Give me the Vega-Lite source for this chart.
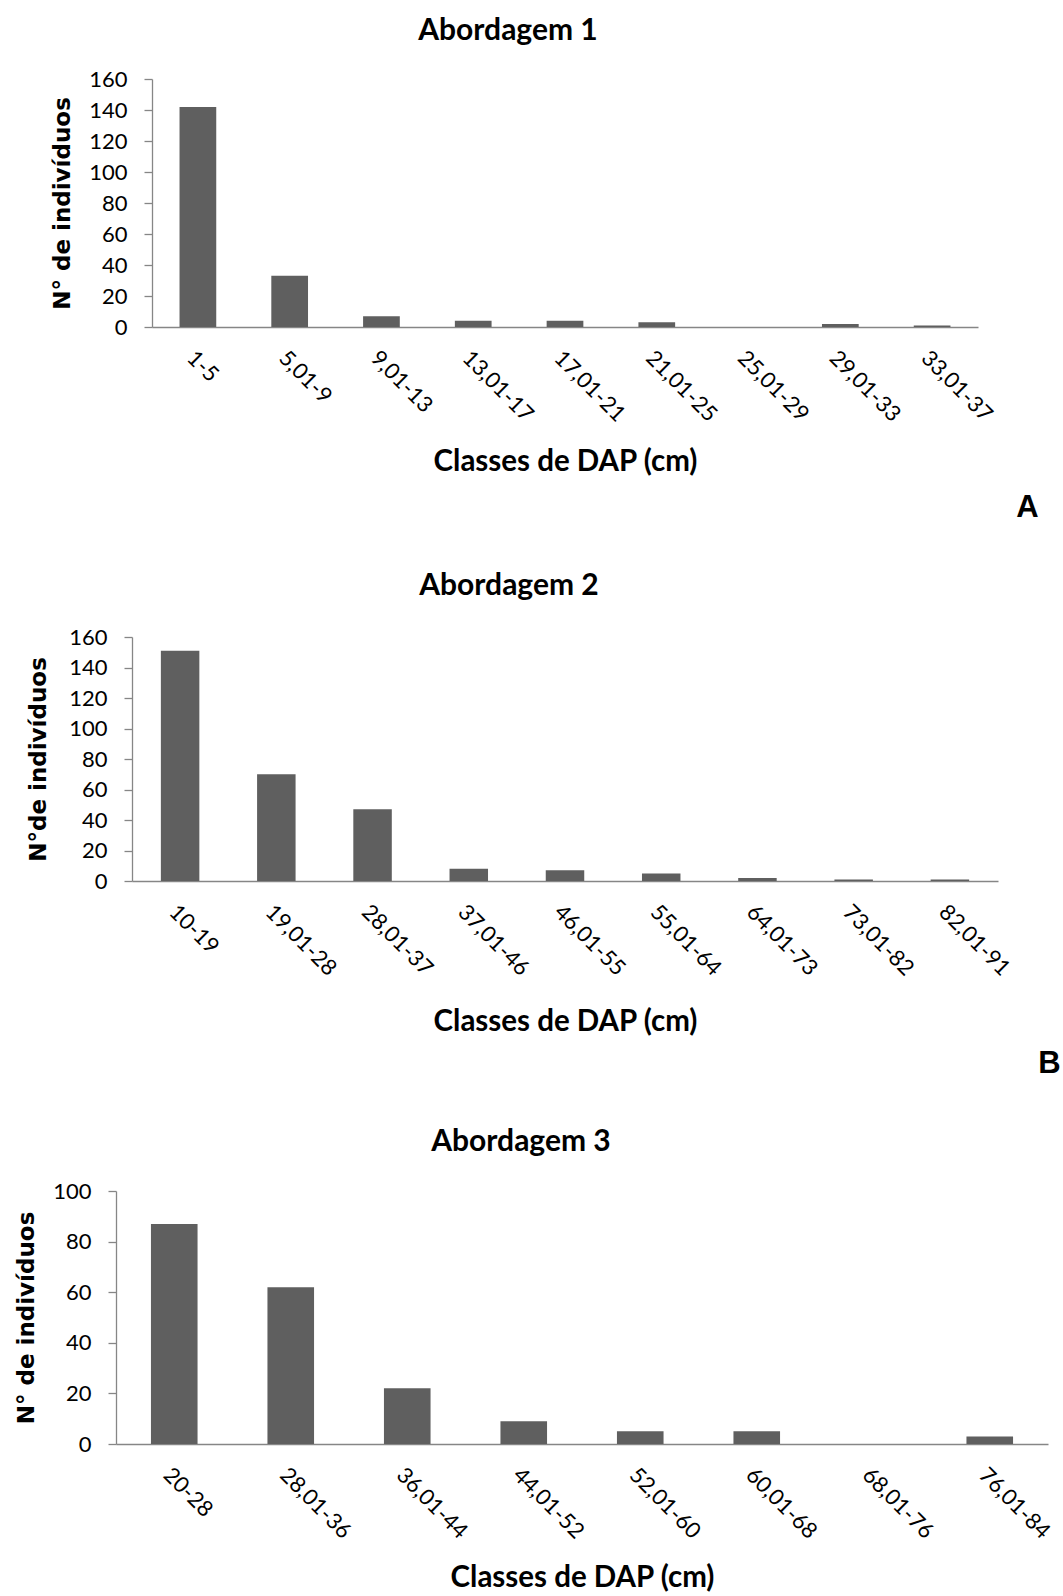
{
  "$schema": "https://vega.github.io/schema/vega-lite/v6.json",
  "background": "white",
  "padding": {"left": 0, "top": 16, "right": 0, "bottom": 0},
  "datasets": {
    "ab1": [
      {"classe": "1-5", "n": 142},
      {"classe": "5,01-9", "n": 33},
      {"classe": "9,01-13", "n": 7},
      {"classe": "13,01-17", "n": 4},
      {"classe": "17,01-21", "n": 4},
      {"classe": "21,01-25", "n": 3},
      {"classe": "25,01-29", "n": 0},
      {"classe": "29,01-33", "n": 2},
      {"classe": "33,01-37", "n": 1}
    ],
    "ab2": [
      {"classe": "10-19", "n": 151},
      {"classe": "19,01-28", "n": 70},
      {"classe": "28,01-37", "n": 47},
      {"classe": "37,01-46", "n": 8},
      {"classe": "46,01-55", "n": 7},
      {"classe": "55,01-64", "n": 5},
      {"classe": "64,01-73", "n": 2},
      {"classe": "73,01-82", "n": 1},
      {"classe": "82,01-91", "n": 1}
    ],
    "ab3": [
      {"classe": "20-28", "n": 87},
      {"classe": "28,01-36", "n": 62},
      {"classe": "36,01-44", "n": 22},
      {"classe": "44,01-52", "n": 9},
      {"classe": "52,01-60", "n": 5},
      {"classe": "60,01-68", "n": 5},
      {"classe": "68,01-76", "n": 0},
      {"classe": "76,01-84", "n": 3}
    ],
    "vazio": []
  },
  "config": {
    "view": {"stroke": null},
    "axis": {
      "domainColor": "#868686",
      "tickColor": "#868686",
      "domainWidth": 1.3,
      "tickWidth": 1.3,
      "labelFont": "Lato",
      "labelFontSize": 22,
      "labelColor": "#000000",
      "titleColor": "#000000",
      "grid": false,
      "labelOverlap": false
    },
    "axisX": {
      "titleFont": "Lato",
      "titleFontSize": 29.5,
      "titleFontWeight": "bold",
      "labelAngle": 45,
      "labelAlign": "left",
      "labelBaseline": "top",
      "ticks": false,
      "tickSize": 0,
      "labelPadding": 20,
      "titleBaseline": "alphabetic"
    },
    "axisY": {
      "titleFont": "DejaVu Sans",
      "titleFontSize": 23,
      "titleFontWeight": "bold",
      "titleBaseline": "bottom",
      "tickSize": 8,
      "labelPadding": 17
    },
    "title": {
      "font": "Lato",
      "fontSize": 30,
      "fontWeight": "bold",
      "color": "#000000"
    }
  },
  "spacing": 48,
  "vconcat": [
    {
      "title": {"text": "A", "orient": "bottom", "anchor": "end", "font": "Liberation Sans", "fontSize": 31, "fontWeight": "bold", "offset": 41, "dx": 43, "baseline": "alphabetic"},
      "spacing": 0,
      "hconcat": [
        {"width": 50, "height": 1, "data": {"name": "vazio"}, "mark": {"type": "point", "opacity": 0}, "encoding": {}},
        {
          "width": 826,
          "height": 248,
          "data": {"name": "ab1"},
          "title": {"text": "Abordagem 1", "frame": "group", "dx": -57, "offset": 22},
          "mark": {"type": "bar", "color": "#5f5f5f"},
          "encoding": {
            "x": {"field": "classe", "type": "nominal", "sort": null,
                  "scale": {"paddingInner": 0.6, "paddingOuter": 0.3},
                  "axis": {"title": "Classes de DAP (cm)", "titleY": 143}},
            "y": {"field": "n", "type": "quantitative",
                  "scale": {"domain": [0, 160]},
                  "axis": {"values": [0, 20, 40, 60, 80, 100, 120, 140, 160], "title": "N° de indivíduos", "titleX": -78}}
          }
        }
      ]
    },
    {
      "title": {"text": "B", "orient": "bottom", "anchor": "end", "font": "Liberation Sans", "fontSize": 31, "fontWeight": "bold", "offset": 37, "dx": 47, "baseline": "alphabetic"},
      "spacing": 0,
      "hconcat": [
        {"width": 26, "height": 1, "data": {"name": "vazio"}, "mark": {"type": "point", "opacity": 0}, "encoding": {}},
        {
          "width": 866,
          "height": 244,
          "data": {"name": "ab2"},
          "title": {"text": "Abordagem 2", "frame": "group", "dx": -56, "offset": 25},
          "mark": {"type": "bar", "color": "#5f5f5f"},
          "encoding": {
            "x": {"field": "classe", "type": "nominal", "sort": null,
                  "scale": {"paddingInner": 0.6, "paddingOuter": 0.3},
                  "axis": {"title": "Classes  de DAP (cm)", "titleY": 149}},
            "y": {"field": "n", "type": "quantitative",
                  "scale": {"domain": [0, 160]},
                  "axis": {"values": [0, 20, 40, 60, 80, 100, 120, 140, 160], "title": "N°de indivíduos", "titleX": -82}}
          }
        }
      ]
    },
    {
      "spacing": 0,
      "hconcat": [
        {"width": 14, "height": 1, "data": {"name": "vazio"}, "mark": {"type": "point", "opacity": 0}, "encoding": {}},
        {
          "width": 932,
          "height": 253,
          "data": {"name": "ab3"},
          "title": {"text": "Abordagem 3", "frame": "group", "dx": -61, "offset": 23},
          "mark": {"type": "bar", "color": "#5f5f5f"},
          "encoding": {
            "x": {"field": "classe", "type": "nominal", "sort": null,
                  "scale": {"paddingInner": 0.6, "paddingOuter": 0.3},
                  "axis": {"title": "Classes  de DAP (cm)", "titleY": 142}},
            "y": {"field": "n", "type": "quantitative",
                  "scale": {"domain": [0, 100]},
                  "axis": {"values": [0, 20, 40, 60, 80, 100], "title": "N° de indivíduos", "titleX": -78}}
          }
        }
      ]
    }
  ]
}
